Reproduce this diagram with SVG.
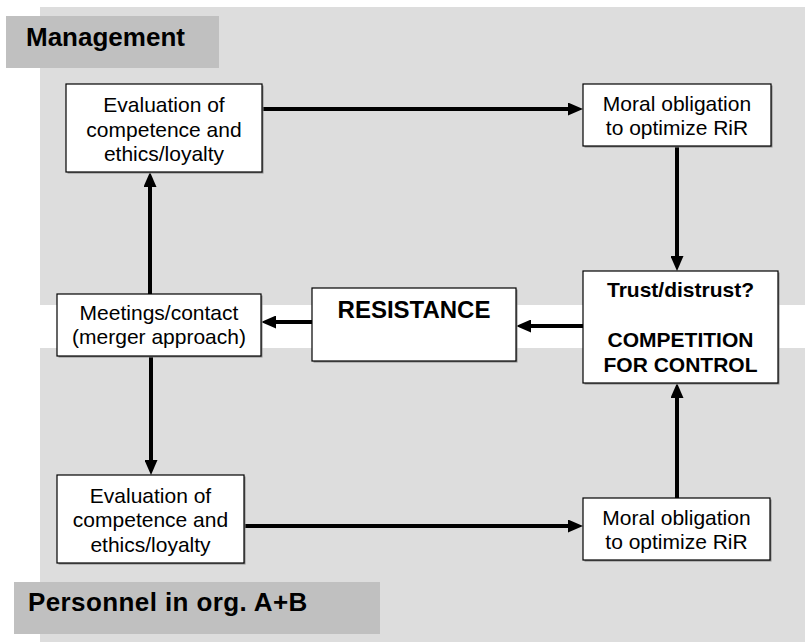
<svg xmlns="http://www.w3.org/2000/svg" width="805" height="642" viewBox="0 0 805 642">
  <style>
    .panel { fill: #dddddd; }
    .tag { fill: #c0c0c0; }
    .tagtxt { font-family: "Liberation Sans", Arial, sans-serif; font-weight: bold; font-size: 26px; fill: #000; }
    .box { fill: #ffffff; stroke: #000; stroke-width: 1.2; }
    .shadow { fill: #8a8a8a; }
    .t { font-family: "Liberation Sans", Arial, sans-serif; font-size: 21px; fill: #000; text-anchor: middle; }
    .b { font-family: "Liberation Sans", Arial, sans-serif; font-weight: bold; font-size: 21px; fill: #000; text-anchor: middle; }
    .big { font-size: 24px; }
    .conn { stroke: #000; stroke-width: 4; fill: none; marker-end: url(#arr); }
  </style>
  <defs>
    <marker id="arr" viewBox="0 0 15 13" refX="2" refY="6.5" markerWidth="15" markerHeight="13" markerUnits="userSpaceOnUse" orient="auto">
      <polygon points="0,0 15,6.5 0,13" fill="#000"/>
    </marker>
  </defs>

  <rect width="805" height="642" fill="#ffffff"/>
  <g id="panel-management">
    <rect class="panel" x="40" y="7" width="765" height="298"/>
    <rect class="tag" x="6" y="16" width="213" height="52"/>
    <text class="tagtxt" x="26" y="46">Management</text>
  </g>
  <g id="panel-personnel">
    <rect class="panel" x="40" y="348" width="765" height="294"/>
    <rect class="tag" x="14" y="582" width="366" height="52"/>
    <text class="tagtxt" x="28" y="611" letter-spacing="0.4">Personnel in org. A+B</text>
  </g>

  <g id="connectors">
    <path class="conn" d="M262,109 H570"/>
    <path class="conn" d="M677,146 V258"/>
    <path class="conn" d="M583,326 H529"/>
    <path class="conn" d="M312,322 H274"/>
    <path class="conn" d="M150,294 V185"/>
    <path class="conn" d="M151,356 V462"/>
    <path class="conn" d="M244,526 H570"/>
    <path class="conn" d="M677,498 V396"/>
  </g>

  <g id="eval-management">
    <rect class="shadow" x="67.5" y="85.5" width="196" height="88"/>
    <rect class="box" x="66" y="84" width="196" height="88"/>
    <text class="t" x="164" y="112">Evaluation of</text>
    <text class="t" x="164" y="137">competence and</text>
    <text class="t" x="164" y="161">ethics/loyalty</text>
  </g>
  <g id="moral-management">
    <rect class="shadow" x="584.5" y="85.5" width="188" height="62"/>
    <rect class="box" x="583" y="84" width="188" height="62"/>
    <text class="t" x="677" y="111">Moral obligation</text>
    <text class="t" x="677" y="135">to optimize RiR</text>
  </g>
  <g id="trust">
    <rect class="shadow" x="584.5" y="272.5" width="195" height="112"/>
    <rect class="box" x="583" y="271" width="195" height="112"/>
    <text class="b" x="680.5" y="297">Trust/distrust?</text>
    <text class="b" x="680.5" y="347">COMPETITION</text>
    <text class="b" x="680.5" y="372">FOR CONTROL</text>
  </g>
  <g id="resistance">
    <rect class="shadow" x="313.5" y="289.5" width="204" height="73"/>
    <rect class="box" x="312" y="288" width="204" height="73"/>
    <text class="b big" x="414" y="318">RESISTANCE</text>
  </g>
  <g id="meetings">
    <rect class="shadow" x="58.5" y="295.5" width="204" height="62"/>
    <rect class="box" x="57" y="294" width="204" height="62"/>
    <text class="t" x="159" y="320">Meetings/contact</text>
    <text class="t" x="159" y="344">(merger approach)</text>
  </g>
  <g id="eval-personnel">
    <rect class="shadow" x="58.5" y="476.5" width="187" height="88"/>
    <rect class="box" x="57" y="475" width="187" height="88"/>
    <text class="t" x="150.5" y="503">Evaluation of</text>
    <text class="t" x="150.5" y="527">competence and</text>
    <text class="t" x="150.5" y="552">ethics/loyalty</text>
  </g>
  <g id="moral-personnel">
    <rect class="shadow" x="584.5" y="499.5" width="187" height="62"/>
    <rect class="box" x="583" y="498" width="187" height="62"/>
    <text class="t" x="676.5" y="525">Moral obligation</text>
    <text class="t" x="676.5" y="549">to optimize RiR</text>
  </g>
</svg>
